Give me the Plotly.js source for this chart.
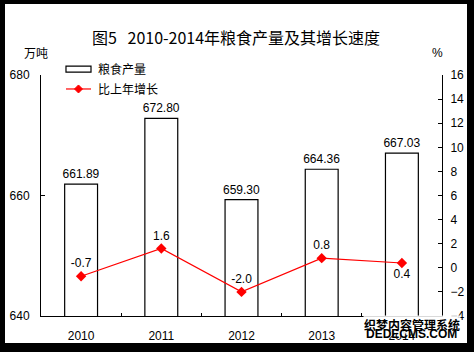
<!DOCTYPE html>
<html>
<head>
<meta charset="utf-8">
<script src="https://cdn.plot.ly/plotly-3.0.1.min.js"></script>
<style>
html,body{margin:0;padding:0;background:#000;width:474px;height:352px;overflow:hidden;}
#chart{position:absolute;left:5px;top:4px;width:462px;height:339px;background:#fff;}
</style>
</head>
<body>
<div id="chart"></div>
<script>
var years = ['2010', '2011', '2012', '2013', '2014'];
var grainOutput = [661.89, 672.80, 659.30, 664.36, 667.03];
var growthRate = [-0.7, 1.6, -2.0, 0.8, 0.4];
var growthTextPos = ['top center', 'top center', 'top center', 'top center', 'bottom center'];

var cjk = '"Noto Sans CJK SC", "Liberation Sans", sans-serif';
var latin = '"Liberation Sans", Arial, sans-serif';

var traces = [
  {
    type: 'bar', x: years, y: grainOutput, width: 0.41,
    marker: {color: '#ffffff', line: {color: '#000000', width: 1.2}},
    texttemplate: '%{y:.2f}', textposition: 'outside', constraintext: 'none',
    textfont: {family: latin, size: 12, color: '#000'}, cliponaxis: false,
    showlegend: false, hoverinfo: 'skip'
  },
  {
    type: 'scatter', mode: 'lines+markers+text', x: years, y: growthRate, yaxis: 'y2',
    line: {color: '#ff0000', width: 1.2},
    marker: {symbol: 'diamond', size: 8, color: '#ff0000'},
    texttemplate: '%{y:.1f}', textposition: growthTextPos,
    textfont: {family: latin, size: 12, color: '#000'}, cliponaxis: false,
    showlegend: false, hoverinfo: 'skip'
  }
];

var layout = {
  width: 462, height: 339,
  margin: {l: 36, r: 25, t: 71, b: 27},
  paper_bgcolor: '#fff', plot_bgcolor: '#fff',
  font: {family: latin, size: 12, color: '#000'},
  title: {text: '图5   2010-2014年粮食产量及其增长速度', font: {family: cjk, size: 16, color: '#000'},
          x: 0.5, xanchor: 'center', y: 0.9, yanchor: 'middle', yref: 'container'},
  xaxis: {type: 'category', showline: true, linecolor: '#000', linewidth: 1,
          ticks: 'inside', tickson: 'boundaries', ticklen: 3, tickcolor: '#000',
          ticklabelstandoff: 9,
          showgrid: false, zeroline: false, tickfont: {family: latin, size: 12}},
  yaxis: {range: [640, 680], dtick: 20, showline: true, linecolor: '#000', linewidth: 1,
          ticks: 'inside', ticklen: 4, tickcolor: '#000', showgrid: false, zeroline: false,
          ticklabelstandoff: 8,
          tickfont: {family: latin, size: 12}},
  yaxis2: {range: [-4, 16], dtick: 2, overlaying: 'y', side: 'right', showline: true,
           linecolor: '#000', linewidth: 1, ticks: 'inside', ticklen: 4, tickcolor: '#000',
           ticklabelstandoff: 5,
           showgrid: false, zeroline: false, tickfont: {family: latin, size: 12}},
  shapes: [
    {type: 'rect', xref: 'paper', yref: 'paper', x0: 0.0623, x1: 0.1247, y0: 1.012, y1: 1.037,
     line: {color: '#000', width: 1.2}, fillcolor: '#fff'},
    {type: 'line', xref: 'paper', yref: 'paper', x0: 0.0623, x1: 0.1247, y0: 0.942, y1: 0.942,
     line: {color: '#ff0000', width: 1.2}}
  ],
  annotations: [
    {xref: 'paper', yref: 'paper', x: 0.137, y: 1.025, xanchor: 'left', yanchor: 'middle',
     text: '粮食产量', showarrow: false, font: {family: cjk, size: 12, color: '#000'}},
    {xref: 'paper', yref: 'paper', x: 0.137, y: 0.942, xanchor: 'left', yanchor: 'middle',
     text: '比上年增长', showarrow: false, font: {family: cjk, size: 12, color: '#000'}},
    {xref: 'paper', yref: 'paper', x: -0.012, y: 1.095, xanchor: 'center', yanchor: 'middle',
     text: '万吨', showarrow: false, font: {family: cjk, size: 12, color: '#000'}},
    {xref: 'paper', yref: 'paper', x: 0.99, y: 1.091, xanchor: 'center', yanchor: 'middle',
     text: '%', showarrow: false, font: {family: latin, size: 12, color: '#000'}},
    {xref: 'paper', yref: 'paper', x: 0.924, y: -0.036, xanchor: 'center', yanchor: 'middle',
     text: '<b>织梦内容管理系统</b>', showarrow: false, bgcolor: 'rgba(255,255,255,0.85)', borderpad: 0,
     font: {family: cjk, size: 12, color: '#000'}},
    {xref: 'paper', yref: 'paper', x: 0.924, y: -0.076, xanchor: 'center', yanchor: 'middle',
     text: '<b>DEDECMS.COM</b>', showarrow: false, borderpad: 0,
     font: {family: latin, size: 12, color: '#000'}}
  ]
};

var legendDiamond = {
  type: 'path', xref: 'paper', yref: 'paper', fillcolor: '#ff0000', line: {color: '#ff0000', width: 1}
};

Plotly.newPlot('chart', traces, layout, {staticPlot: true, displayModeBar: false}).then(function (gd) {
  var fl = gd._fullLayout, w = fl._size.w, h = fl._size.h;
  var cx = 0.0935, cy = 0.942, dx = 4 / w, dy = 4 / h;
  legendDiamond.path = 'M' + (cx - dx) + ',' + cy + ' L' + cx + ',' + (cy + dy) + ' L' + (cx + dx) + ',' + cy + ' L' + cx + ',' + (cy - dy) + ' Z';
  Plotly.relayout(gd, {shapes: layout.shapes.concat([legendDiamond])});
});
</script>
</body>
</html>
